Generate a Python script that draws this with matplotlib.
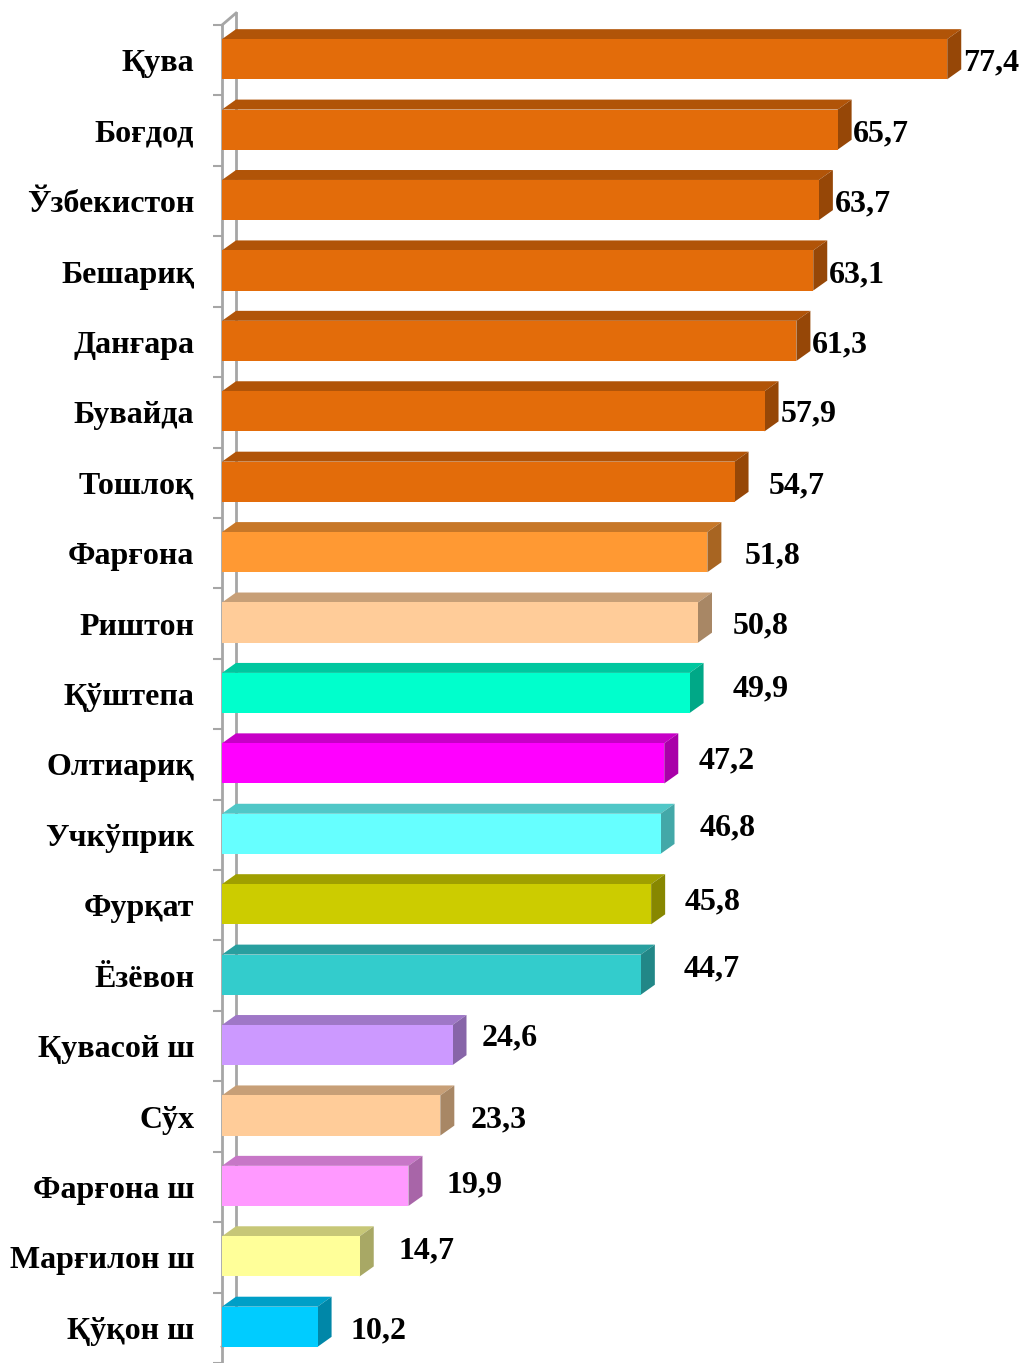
import matplotlib.pyplot as plt
from matplotlib.patches import Polygon
from matplotlib.colors import to_rgb

# туманлар ва кўрсаткичлар
tumanlar = ["Қува", "Боғдод", "Ўзбекистон", "Бешариқ", "Данғара", "Бувайда",
            "Тошлоқ", "Фарғона", "Риштон", "Қўштепа", "Олтиариқ", "Учкўприк",
            "Фурқат", "Ёзёвон", "Қувасой ш", "Сўх", "Фарғона ш", "Марғилон ш",
            "Қўқон ш"]
qiymatlar = [77.4, 65.7, 63.7, 63.1, 61.3, 57.9, 54.7, 51.8, 50.8, 49.9,
             47.2, 46.8, 45.8, 44.7, 24.6, 23.3, 19.9, 14.7, 10.2]
ranglar = ["#E36C0A"] * 7 + ["#FF9933", "#FFCC99", "#00FFCC", "#FF00FF",
           "#66FFFF", "#CCCC00", "#33CCCC", "#CC99FF", "#FFCC99", "#FF99FF",
           "#FFFF99", "#00CCFF"]

# ёзувларнинг силжиши (x - бирликда, y - пикселда, юқорига)
yozuv_dx = [1.7, 1.6, 1.7, 1.7, 1.7, 1.7, 3.6, 4.0, 3.7, 4.6,
            3.7, 4.2, 3.6, 4.6, 3.1, 3.2, 4.1, 4.1, 3.5]
yozuv_dy = [0, 0, 0, 0, 0, 1, 0, 0, 1, 8, 7, 10, 6, 10, 11, 0, 5, 9, 0]

W, H = 1024, 1363
PX_X = 9.37          # пиксель / бирлик
PX_Y = 70.7          # пиксель / категория
x0_px, y0_px = 222, 60.5

fig = plt.figure(figsize=(W / 100, H / 100), dpi=100)
ax = fig.add_axes([x0_px / W, 0, (W - x0_px) / W, 1])
ax.set_xlim(0, (W - x0_px) / PX_X)
ax.set_ylim((H - y0_px) / PX_Y, -y0_px / PX_Y)

dx, dy = 14 / PX_X, 10 / PX_Y
top, bot = -0.30, 0.27


def shade(c, k):
    r, g, b = to_rgb(c)
    return (r * k, g * k, b * k)


n = len(tumanlar)
ypos = list(range(n))
ax.barh(ypos, qiymatlar, left=0, height=bot - top,
        color=ranglar, edgecolor="none", zorder=3)
# олд юзни бироз юқорига суриш
for p, i in zip(ax.patches, ypos):
    p.set_y(i + top)

for i, (v, c) in enumerate(zip(qiymatlar, ranglar)):
    ust = [(0, i + top), (v, i + top), (v + dx, i + top - dy), (dx, i + top - dy)]
    yon = [(v, i + top), (v + dx, i + top - dy), (v + dx, i + bot - dy), (v, i + bot)]
    ax.add_patch(Polygon(ust, closed=True, fc=shade(c, 0.78), ec="none", zorder=2))
    ax.add_patch(Polygon(yon, closed=True, fc=shade(c, 0.66), ec="none", zorder=2))
    ax.text(v + yozuv_dx[i], i + (3 - yozuv_dy[i]) / PX_Y,
            f"{v:.1f}".replace(".", ","),
            ha="left", va="center", fontsize=23, fontweight="bold",
            family="Liberation Serif", color="black", zorder=4)

# девор чизиқлари
grey = "#A6A6A6"
ax.plot([0, 0], [-0.5, 18.6], color=grey, lw=2, zorder=1, clip_on=False)
ax.plot([dx, dx], [-0.67, 18.17], color=grey, lw=2, zorder=1, clip_on=False)
ax.plot([0, dx], [-0.5, -0.67], color=grey, lw=2, zorder=1, clip_on=False)
ax.plot([0, dx], [18.27, 18.17], color=grey, lw=2, zorder=1, clip_on=False)

for s in ax.spines.values():
    s.set_visible(False)
ax.set_xticks([])
ax.set_yticks(ypos)
ax.set_yticklabels(tumanlar, fontsize=23, fontweight="bold",
                   family="Liberation Serif")
ax.tick_params(axis="y", which="major", length=0, pad=20)
ax.set_yticks([i - 0.5 for i in range(n + 1)], minor=True)
ax.tick_params(axis="y", which="minor", length=6.5, width=1.5, color=grey,
               direction="out")

fig.savefig("out.png", dpi=100, facecolor="white")
